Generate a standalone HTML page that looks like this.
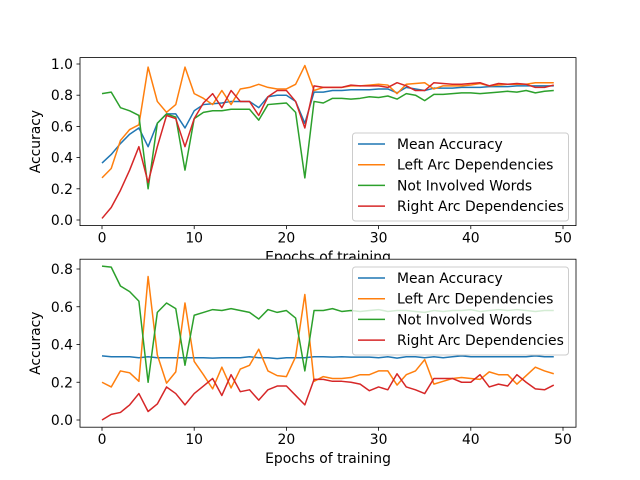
<!DOCTYPE html>
<html><head><meta charset="utf-8"><style>body{margin:0;background:#fff}svg{display:block;font-family:"DejaVu Sans","Liberation Sans",sans-serif}</style></head>
<body>
<svg id="fig" width="640" height="480" viewBox="0 0 640 480" xmlns="http://www.w3.org/2000/svg"></svg>
<script>
const epochs = Array.from({length:50},(_,i)=>i);
const seriesNames = ["Mean Accuracy","Left Arc Dependencies","Not Involved Words","Right Arc Dependencies"];
const colors = ["#1f77b4","#ff7f0e","#2ca02c","#d62728"];
const topMean = [0.365,0.42,0.49,0.55,0.59,0.47,0.62,0.68,0.68,0.59,0.70,0.74,0.745,0.75,0.76,0.76,0.76,0.72,0.79,0.80,0.80,0.76,0.62,0.82,0.82,0.83,0.83,0.835,0.835,0.835,0.84,0.84,0.815,0.85,0.84,0.83,0.845,0.845,0.845,0.85,0.85,0.85,0.855,0.855,0.855,0.86,0.86,0.86,0.86,0.86];
const topLeft = [0.27,0.33,0.51,0.58,0.61,0.98,0.76,0.69,0.74,0.98,0.81,0.78,0.74,0.83,0.74,0.84,0.85,0.87,0.85,0.84,0.84,0.87,0.99,0.83,0.85,0.85,0.85,0.86,0.86,0.865,0.87,0.865,0.81,0.87,0.875,0.88,0.84,0.86,0.86,0.86,0.865,0.875,0.86,0.865,0.87,0.87,0.87,0.88,0.88,0.88];
const topNotInv = [0.81,0.82,0.72,0.70,0.67,0.20,0.62,0.68,0.66,0.32,0.65,0.69,0.70,0.70,0.71,0.71,0.71,0.64,0.74,0.745,0.75,0.69,0.27,0.76,0.75,0.78,0.78,0.775,0.78,0.79,0.785,0.795,0.775,0.81,0.80,0.765,0.805,0.805,0.81,0.815,0.815,0.81,0.815,0.82,0.825,0.82,0.83,0.815,0.825,0.83];
const topRight = [0.01,0.08,0.19,0.32,0.47,0.24,0.47,0.67,0.65,0.47,0.65,0.75,0.81,0.72,0.83,0.76,0.76,0.67,0.79,0.83,0.83,0.76,0.59,0.86,0.85,0.85,0.85,0.865,0.86,0.86,0.86,0.85,0.88,0.86,0.83,0.83,0.88,0.875,0.87,0.87,0.875,0.88,0.86,0.875,0.87,0.875,0.87,0.85,0.85,0.865];
const botMean = [0.34,0.335,0.335,0.335,0.33,0.335,0.33,0.33,0.33,0.33,0.33,0.33,0.328,0.33,0.33,0.33,0.335,0.33,0.33,0.325,0.33,0.33,0.33,0.335,0.335,0.333,0.335,0.333,0.333,0.333,0.33,0.335,0.328,0.335,0.335,0.33,0.335,0.33,0.335,0.34,0.335,0.335,0.335,0.335,0.335,0.335,0.335,0.34,0.335,0.335];
const botLeft = [0.20,0.175,0.26,0.25,0.205,0.76,0.345,0.195,0.255,0.62,0.31,0.24,0.165,0.28,0.17,0.27,0.29,0.375,0.26,0.235,0.23,0.335,0.665,0.205,0.23,0.22,0.22,0.225,0.24,0.24,0.26,0.26,0.185,0.24,0.26,0.32,0.19,0.205,0.22,0.225,0.22,0.215,0.255,0.24,0.24,0.19,0.235,0.28,0.26,0.245];
const botNotInv = [0.815,0.81,0.71,0.68,0.63,0.20,0.57,0.62,0.59,0.29,0.555,0.57,0.585,0.58,0.59,0.58,0.57,0.535,0.585,0.57,0.58,0.54,0.26,0.58,0.58,0.59,0.575,0.58,0.575,0.58,0.585,0.575,0.58,0.58,0.575,0.57,0.58,0.575,0.58,0.58,0.585,0.575,0.58,0.585,0.58,0.585,0.58,0.575,0.58,0.58];
const botRight = [0.0,0.03,0.04,0.08,0.14,0.045,0.085,0.175,0.14,0.08,0.14,0.18,0.22,0.13,0.24,0.15,0.16,0.105,0.16,0.18,0.18,0.13,0.08,0.215,0.215,0.205,0.205,0.20,0.19,0.155,0.175,0.16,0.245,0.175,0.16,0.14,0.22,0.22,0.22,0.20,0.20,0.24,0.175,0.19,0.18,0.24,0.20,0.165,0.16,0.185];
const xTicks = [0,10,20,30,40,50];
const topYTicks = [0.0,0.2,0.4,0.6,0.8,1.0];
const botYTicks = [0.0,0.2,0.4,0.6,0.8];

const NS="http://www.w3.org/2000/svg";
const svg=document.getElementById('fig');
function mk(tag,attrs,parent){const e=document.createElementNS(NS,tag);for(const k in attrs)e.setAttribute(k,attrs[k]);(parent||svg).appendChild(e);return e;}
const xS = v => 102 + v*9.22;

function axes(name, top, bottom, y0px, pxPerUnit, yTicks, data, legendY, covered){
  const yS = v => y0px - v*pxPerUnit;
  const g = mk('g',{});
  
  
  mk('rect',{x:80,y:top,width:496,height:bottom-top,fill:'#fff'},g);
  data.forEach((arr,si)=>{
    const p = mk('polyline',{points:arr.map((v,i)=>xS(epochs[i]).toFixed(2)+','+yS(v).toFixed(2)).join(' '),fill:'none',stroke:colors[si],'stroke-width':1.5,'stroke-linejoin':'round'},g);
    
    
  });
  const fr = mk('rect',{x:80,y:top,width:496,height:bottom-top,fill:'none',stroke:'#000','stroke-width':0.8},g);
  
  
  xTicks.forEach(t=>{
    mk('line',{x1:xS(t),x2:xS(t),y1:bottom,y2:bottom+3.5,stroke:'#000','stroke-width':0.8},g);
    const tx = mk('text',{x:xS(t),y:bottom+17,'text-anchor':'middle','font-size':'13.9px',fill:'#000'},g);
    tx.textContent = t;
    
    
  });
  yTicks.forEach(t=>{
    mk('line',{x1:80,x2:76.5,y1:yS(t),y2:yS(t),stroke:'#000','stroke-width':0.8},g);
    const ty = mk('text',{x:73,y:yS(t)+5,'text-anchor':'end','font-size':'13.9px',fill:'#000'},g);
    ty.textContent = t.toFixed(1);
    
    
  });
  const yl = mk('text',{x:0,y:0,transform:`translate(40,${(top+bottom)/2}) rotate(-90)`,'text-anchor':'middle','font-size':'13.9px'},g);
  yl.textContent='Accuracy';
  
  
  const xl = mk('text',{x:328,y:bottom+36,'text-anchor':'middle','font-size':'13.9px'},g);
  xl.textContent='Epochs of training';
  
  
  // legend
  const lg = mk('g',{},g);
  
  
  mk('rect',{x:352.5,y:legendY,width:216,height:88,rx:3,fill:'#fff','fill-opacity':0.8,stroke:'#ccc','stroke-width':1},lg);
  seriesNames.forEach((n,i)=>{
    const cy = legendY+11+i*20.7;
    mk('line',{x1:358,x2:385,y1:cy,y2:cy,stroke:colors[i],'stroke-width':1.5},lg);
    const t = mk('text',{x:397,y:cy+5,'font-size':'13.9px'},lg);
    t.textContent=n;
    
    
  });
  return g;
}
axes('top-chart',57.6,225.6,220,156,topYTicks,[topMean,topLeft,topNotInv,topRight],133);
axes('bottom-chart',259.2,427.2,420,188.75,botYTicks,[botMean,botLeft,botNotInv,botRight],267);
</script>
</body></html>
